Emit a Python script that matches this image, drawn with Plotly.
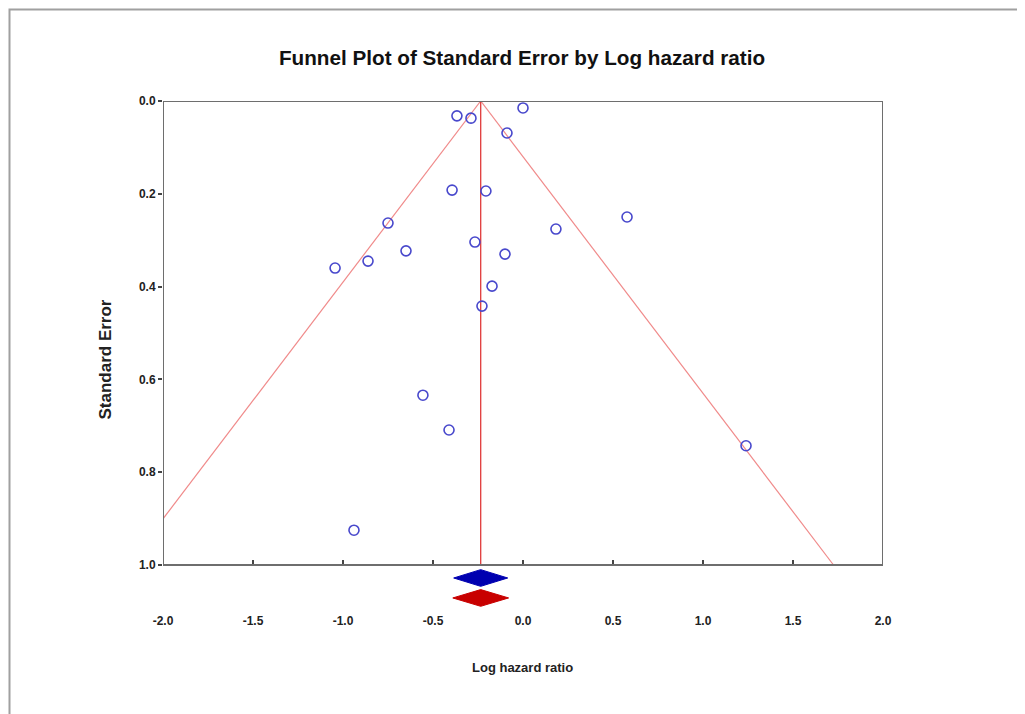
import plotly.graph_objects as go

# ---- data ----
log_hr = [-0.367, -0.289, 0.000, -0.089, -0.394, -0.206, -0.750, 0.578, 0.183, -0.267,
          -0.650, -0.100, -0.861, -1.044, -0.172, -0.228, -0.556, -0.411, 1.239, -0.939]
std_err = [0.032, 0.037, 0.015, 0.069, 0.192, 0.194, 0.263, 0.250, 0.276, 0.304,
           0.323, 0.330, 0.345, 0.360, 0.399, 0.442, 0.634, 0.709, 0.743, 0.925]
pooled_mean = -0.235
fixed_ci = [-0.385, -0.085]     # blue diamond
random_ci = [-0.390, -0.080]    # red diamond
z = 1.96
x_ticks = [-2.0, -1.5, -1.0, -0.5, 0.0, 0.5, 1.0, 1.5, 2.0]
y_ticks = [0.0, 0.2, 0.4, 0.6, 0.8, 1.0]
x_range = [-2.0, 2.0]
se_max = 1.0

# ---- layout geometry (pixels; page body adds ~8px offset) ----
OFF = 8
W, H = 1025, 714
L, T = 163 - OFF, 101 - OFF
plot_w = 720
plot_h = 612 - 101
R = W - L - plot_w
B = H - T - plot_h
px_per_se = 464.0
y_bottom = plot_h / px_per_se          # extended range below SE=1 for diamonds
blue_y = 1.028
red_y = 1.071
dia_h = 0.018

FONT = "Liberation Sans Narrow, Arial Narrow, Liberation Sans, Arial, sans-serif"


def px_x(sx):
    return (sx - OFF - L) / plot_w


def px_y(sy):
    return 1 - (sy - OFF - T) / plot_h


fig = go.Figure()

# funnel lines
left_se = min((pooled_mean - x_range[0]) / z, se_max)
fig.add_trace(go.Scatter(x=[pooled_mean, pooled_mean - z * left_se], y=[0, left_se],
                         mode="lines", line=dict(color="#f08a8a", width=1.2),
                         hoverinfo="skip", showlegend=False))
right_se = min((x_range[1] - pooled_mean) / z, se_max)
fig.add_trace(go.Scatter(x=[pooled_mean, pooled_mean + z * right_se], y=[0, right_se],
                         mode="lines", line=dict(color="#f08a8a", width=1.2),
                         hoverinfo="skip", showlegend=False))
fig.add_trace(go.Scatter(x=[pooled_mean, pooled_mean], y=[0, se_max],
                         mode="lines", line=dict(color="#e03a3a", width=1.3),
                         hoverinfo="skip", showlegend=False))

# study points (open symbols take their stroke colour from marker.color)
fig.add_trace(go.Scatter(x=log_hr, y=std_err, mode="markers",
                         marker=dict(symbol="circle-open", size=10, color="#4848cc",
                                     line=dict(color="#4848cc", width=1.6)),
                         showlegend=False))

# diamonds
for ci, yc, col in [(fixed_ci, blue_y, "#0000b0"), (random_ci, red_y, "#c80000")]:
    fig.add_trace(go.Scatter(x=[ci[0], pooled_mean, ci[1], pooled_mean, ci[0]],
                             y=[yc, yc - dia_h, yc, yc + dia_h, yc],
                             mode="lines", fill="toself", fillcolor=col,
                             line=dict(color=col, width=1), hoverinfo="skip",
                             showlegend=False))

# plot frame
fig.add_shape(type="rect", xref="x", yref="y", x0=x_range[0], x1=x_range[1],
              y0=0, y1=se_max, line=dict(color="#6e6e6e", width=2), layer="above")

# outer page frame (as close to the page corner as the drawing area allows)
fig.add_shape(type="rect", xref="paper", yref="paper",
              x0=px_x(OFF + 1.5), x1=px_x(W + 40), y0=px_y(H + 40), y1=px_y(OFF + 1.5),
              line=dict(color="#a0a0a0", width=2))

axis_pos = (y_bottom - se_max) / y_bottom

fig.update_layout(
    width=W, height=H,
    margin=dict(l=L, r=R, t=T, b=B),
    paper_bgcolor="white", plot_bgcolor="white",
    title=dict(text="<b>Funnel Plot of Standard Error by Log hazard ratio</b>",
               x=px_x(522), xref="paper", xanchor="center",
               y=1 - (58 - OFF) / H, yref="container", yanchor="middle",
               font=dict(family=FONT, size=20.7, color="#111111")),
    xaxis=dict(range=x_range, tickvals=x_ticks,
               ticktext=[f"<b>{v:.1f}</b>" for v in x_ticks],
               showgrid=False, zeroline=False, showline=False, ticks="",
               tickfont=dict(family=FONT, size=12, color="#222222")),
    xaxis2=dict(range=x_range, tickvals=x_ticks, overlaying="x", anchor="free",
                position=axis_pos, side="bottom", showticklabels=False,
                showgrid=False, zeroline=False, showline=False,
                ticks="inside", ticklen=5, tickwidth=2, tickcolor="#444444"),
    yaxis=dict(range=[y_bottom, 0], tickvals=y_ticks,
               ticktext=[f"<b>{v:.1f}</b>" for v in y_ticks],
               showgrid=False, zeroline=False, showline=False,
               ticks="outside", ticklen=4, tickwidth=1.5, tickcolor="#444444",
               tickfont=dict(family=FONT, size=12, color="#222222")),
)

# invisible trace so that xaxis2 (the inside tick marks at SE = 1) is drawn
fig.add_trace(go.Scatter(x=[x_range[0]], y=[0], xaxis="x2", mode="markers",
                         marker=dict(opacity=0), hoverinfo="skip", showlegend=False))

# axis titles
fig.add_annotation(text="<b>Standard Error</b>", xref="paper", yref="paper",
                   x=px_x(93), y=px_y(360), textangle=-90,
                   showarrow=False, font=dict(family=FONT, size=17, color="#222222"))
fig.add_annotation(text="<b>Log hazard ratio</b>", xref="paper", yref="paper",
                   x=px_x(522), y=px_y(677),
                   showarrow=False, font=dict(family=FONT, size=13, color="#222222"))

fig.write_html("out.html")
